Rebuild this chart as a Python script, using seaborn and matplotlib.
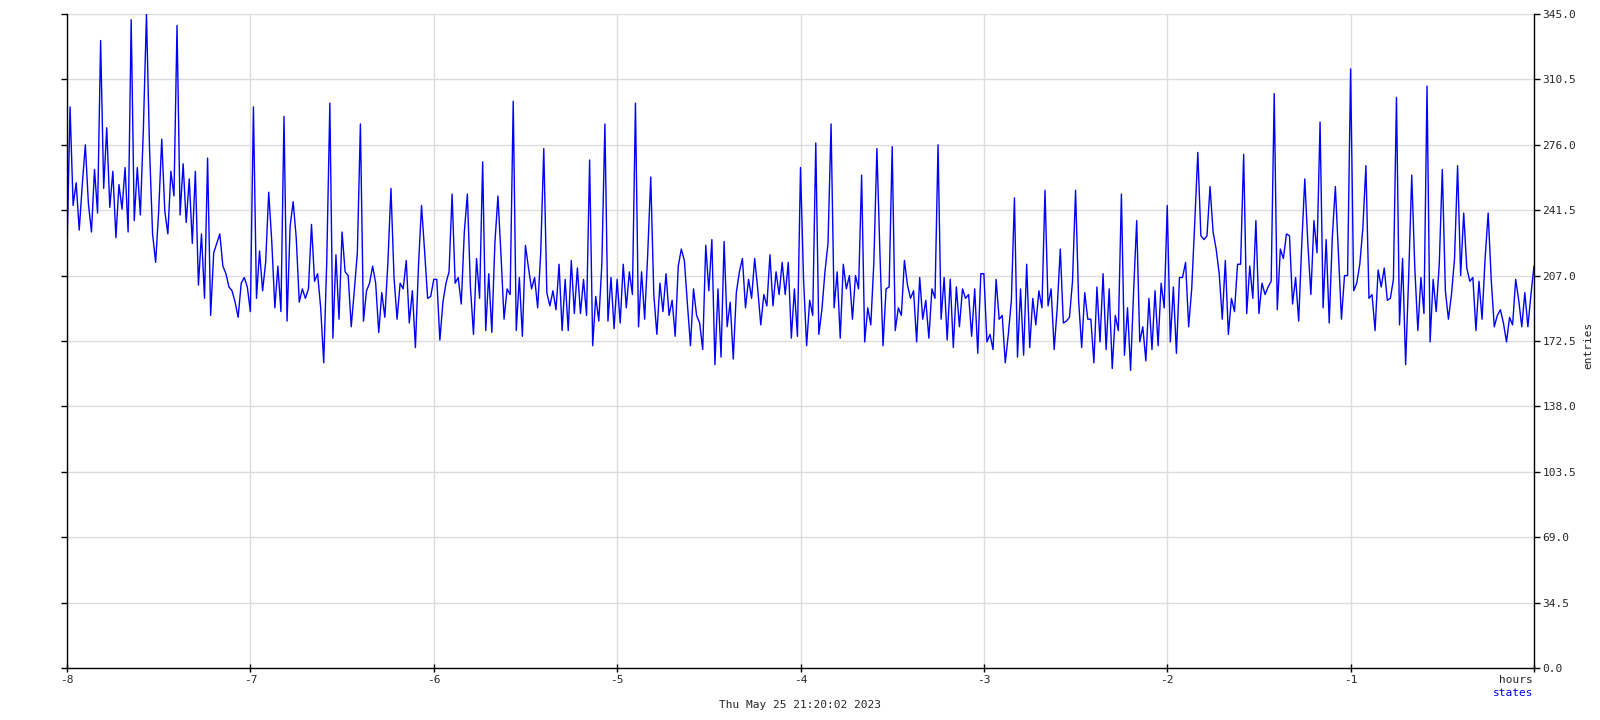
import numpy as np
import pandas as pd
import matplotlib
matplotlib.use("Agg")
import matplotlib.pyplot as plt
import seaborn as sns

# values per minute, one list per hour (t = -8 .. 0 hours)
hour1 = [220, 296, 244, 256, 231, 255, 276, 245, 230, 263, 240, 331, 253, 285, 243, 262, 227, 255, 242, 264,
         230, 342, 236, 264, 239, 285, 345, 274, 229, 214, 241, 279, 241, 229, 262, 249, 339, 239, 266, 235,
         258, 224, 262, 202, 229, 195, 269, 186, 219, 224, 229, 212, 208, 201, 199, 193, 185, 203, 206, 201]
hour2 = [188, 296, 195, 220, 199, 214, 251, 225, 190, 212, 188, 291, 183, 233, 246, 227, 193, 200, 195, 200,
         234, 204, 208, 190, 161, 215, 298, 174, 218, 184, 230, 209, 207, 180, 199, 219, 287, 183, 199, 203,
         212, 203, 177, 198, 185, 214, 253, 206, 184, 203, 200, 215, 182, 199, 169, 212, 244, 220, 195, 196]
hour3 = [205, 205, 173, 193, 203, 209, 250, 203, 206, 192, 230, 250, 201, 176, 216, 195, 267, 178, 208, 177,
         224, 249, 218, 184, 200, 197, 299, 178, 206, 175, 223, 211, 200, 206, 190, 219, 274, 198, 191, 199,
         189, 213, 178, 205, 178, 215, 187, 211, 187, 205, 186, 268, 170, 196, 183, 213, 287, 183, 206, 179]
hour4 = [205, 182, 213, 190, 209, 197, 298, 180, 209, 184, 218, 259, 197, 176, 203, 188, 208, 186, 194, 175,
         212, 221, 215, 192, 170, 200, 186, 182, 168, 223, 199, 226, 160, 200, 164, 225, 180, 193, 163, 198,
         209, 216, 190, 205, 195, 216, 200, 181, 197, 191, 218, 191, 209, 197, 214, 197, 214, 174, 200, 175]
hour5 = [264, 205, 170, 194, 186, 277, 176, 189, 209, 224, 287, 190, 209, 174, 213, 200, 207, 184, 207, 200,
         260, 172, 190, 181, 214, 274, 218, 170, 200, 201, 275, 178, 190, 186, 215, 202, 195, 199, 172, 206,
         184, 194, 174, 200, 195, 276, 184, 206, 173, 205, 169, 201, 180, 200, 195, 197, 175, 200, 166, 208]
hour6 = [208, 172, 176, 168, 205, 184, 186, 161, 176, 194, 248, 164, 200, 165, 213, 169, 195, 181, 199, 190,
         252, 191, 200, 168, 190, 221, 182, 183, 185, 204, 252, 194, 169, 198, 184, 184, 161, 201, 172, 208,
         168, 200, 158, 186, 178, 250, 165, 190, 157, 199, 236, 172, 180, 162, 195, 168, 199, 170, 203, 190]
hour7 = [244, 172, 201, 166, 206, 206, 214, 180, 200, 235, 272, 228, 226, 228, 254, 230, 221, 208, 184, 215,
         176, 195, 188, 213, 213, 271, 187, 212, 195, 236, 187, 203, 197, 201, 204, 303, 189, 221, 216, 229,
         228, 192, 206, 183, 223, 258, 224, 197, 236, 219, 288, 190, 226, 182, 227, 254, 219, 184, 207, 207]
hour8 = [316, 199, 203, 213, 232, 265, 195, 197, 178, 210, 201, 211, 194, 195, 205, 301, 181, 216, 160, 207,
         260, 211, 178, 206, 187, 307, 172, 205, 188, 213, 263, 199, 184, 197, 216, 265, 207, 240, 211, 204,
         206, 178, 204, 184, 216, 240, 205, 180, 186, 189, 182, 172, 185, 181, 205, 194, 180, 198, 180, 197, 212]

x_ticks = [-8, -7, -6, -5, -4, -3, -2, -1, 0]
x_tick_labels = ["-8", "-7", "-6", "-5", "-4", "-3", "-2", "-1", ""]
y_ticks = [0.0, 34.5, 69.0, 103.5, 138.0, 172.5, 207.0, 241.5, 276.0, 310.5, 345.0]

values = hour1 + hour2 + hour3 + hour4 + hour5 + hour6 + hour7 + hour8
minutes = np.arange(len(values))
df = pd.DataFrame({"hours": -8 + minutes / 60.0, "entries": values})

sns.set_style("white")
plt.rcParams["font.family"] = ["DejaVu Sans Mono", "DejaVu Sans"]

fig = plt.figure(figsize=(16, 7.2), dpi=100)
ax = fig.add_axes([67 / 1600, 1 - 668 / 720, (1534 - 67) / 1600, (668 - 14) / 720])

sns.lineplot(data=df, x="hours", y="entries", ax=ax, color="#0000ff", linewidth=1.0)

ax.set_xlim(-8, 0)
ax.set_ylim(0, 345)
ax.set_xticks(x_ticks)
ax.set_xticklabels(x_tick_labels)
ax.set_yticks(y_ticks)
ax.set_yticklabels([f"{v:.1f}" for v in y_ticks])

ax.grid(True, color="#dcdcdc", linewidth=1.0)
ax.set_axisbelow(True)

for side in ["left", "bottom", "right"]:
    ax.spines[side].set_visible(True)
    ax.spines[side].set_color("black")
    ax.spines[side].set_linewidth(1.0)
ax.spines["top"].set_visible(False)

ax.tick_params(axis="y", left=True, right=True, labelleft=False, labelright=True,
               direction="out", length=4, width=1, color="black", labelsize=8, pad=2)
ax.tick_params(axis="x", bottom=True, direction="inout", length=6, width=1, color="black",
               labelsize=8, pad=2)

ax.set_xlabel("")
ax.set_ylabel("")
fig.text(1588 / 1600, 1 - 345 / 720, "entries", rotation=90, ha="center", va="center", fontsize=8)
fig.text(1533 / 1600, 1 - 680 / 720, "hours", ha="right", va="center", fontsize=8)
fig.text(1533 / 1600, 1 - 693 / 720, "states", ha="right", va="center", fontsize=8, color="#0000ff")
fig.text(800 / 1600, 1 - 705 / 720, "Thu May 25 21:20:02 2023", ha="center", va="center", fontsize=8)

fig.savefig("out.png", dpi=100, facecolor="white")
